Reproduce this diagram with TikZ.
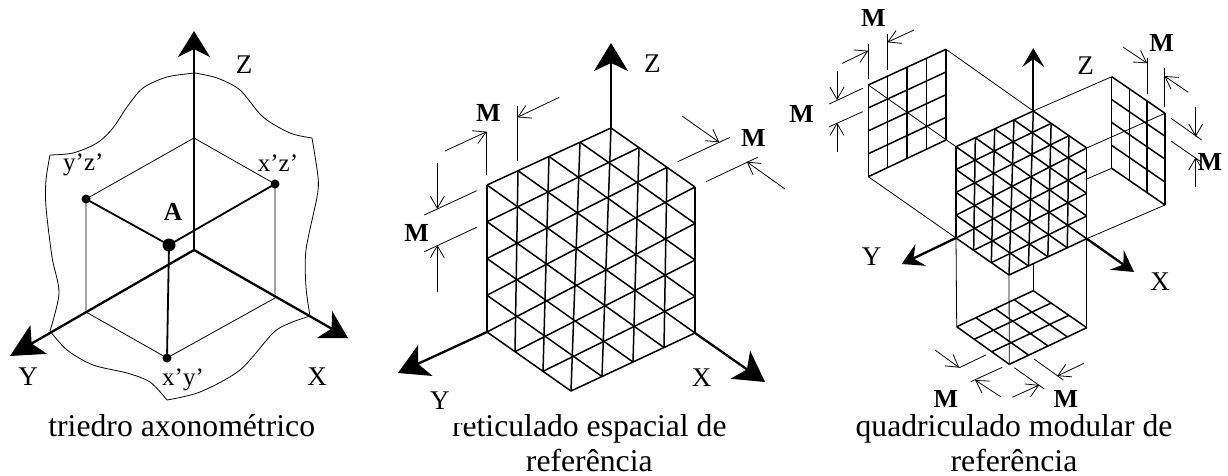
\documentclass[tikz,border=0pt]{standalone}
\usepackage{fontspec}
\setmainfont{Liberation Serif}
\usetikzlibrary{arrows.meta,calc}

\tikzset{
  thinline/.style={line width=0.8pt},
  gridline/.style={line width=1.5pt},
  axisline/.style 2 args={line width=2.3pt,-{Stealth[length=#1,width=#2,inset=8pt]}},
  dimarrow/.style={line width=0.8pt,-{Straight Barb[length=12pt,width=14pt]}},
  dot/.style={circle,fill=black,inner sep=0pt,minimum size=#1},
  axislabel/.style={font=\fontsize{27}{27}\selectfont,inner sep=0pt},
  pointlabel/.style={font=\fontsize{25}{25}\selectfont,inner sep=0pt},
  modlabel/.style={font=\fontsize{26}{26}\selectfont\bfseries,inner sep=0pt},
  caption/.style={font=\fontsize{31.7}{34.5}\selectfont,align=center,inner sep=0pt}
}

% lattice on a hexagon with corners #1T, #1L, #1E, #1B, #1F, #1R
\newcommand{\hexlattice}[1]{
  \foreach \i in {0,...,4}
    \draw[gridline] ($(#1T)!\i/4!(#1L)$) -- ($(#1R)!\i/4!(#1F)$);
  \foreach \i in {1,...,4}
    \draw[gridline] ($(#1L)!\i/4!(#1E)$) -- ($(#1F)!\i/4!(#1B)$);
  \foreach \i in {0,...,3} {
    \draw[gridline] ($(#1L)!\i/4!(#1E)$) -- ($(#1T)!\i/3!(#1R)$);
    \draw[gridline] ($(#1E)!\i/3!(#1B)$) -- ($(#1R)!\i/4+0.25!(#1F)$);
    \draw[gridline] ($(#1L)!\i/4!(#1T)$) -- ($(#1E)!\i/3!(#1B)$);
    \draw[gridline] ($(#1T)!\i/3!(#1R)$) -- ($(#1B)!\i/4+0.25!(#1F)$);
  }
  \draw[gridline] (#1R) -- (#1F);
}

% flat panel with corners p, q, r, s and #5 by #6 divisions
\newcommand{\gridpanel}[6]{
  \foreach \i in {0,...,#5}
    \draw[gridline] ($(#1)!\i/#5!(#2)$) -- ($(#4)!\i/#5!(#3)$);
  \foreach \i in {0,...,#6}
    \draw[gridline] ($(#2)!\i/#6!(#3)$) -- ($(#1)!\i/#6!(#4)$);
}

\begin{document}
\begin{tikzpicture}[x=1pt,y=-1pt]
  \useasboundingbox (0,0) rectangle (1228,476);

  % triedro
  \draw[thinline] plot[smooth] coordinates {(195,73) (167,77) (143,88) (127,107) (113,128) (97,143) (73,153) (50,155)};
  \draw[thinline] plot[smooth] coordinates {(50,155) (46,180) (46,207) (52,257) (59,293) (50,331)};
  \draw[thinline] plot[smooth] coordinates {(50,331) (67,350) (93,365) (127,373) (150,382) (167,400)};
  \draw[thinline] plot[smooth] coordinates {(167,400) (200,392) (240,370) (273,333) (290,323) (310,316)};
  \draw[thinline] plot[smooth] coordinates {(310,316) (306,287) (306,250) (317,197) (318,177) (312,138)};
  \draw[thinline] plot[smooth] coordinates {(312,138) (290,133) (263,117) (240,90) (217,78) (195,73)};

  \coordinate (aO) at (194,250);
  \coordinate (aZ) at (194,138);
  \coordinate (aP) at (86,312);
  \coordinate (aQ) at (275,298);
  \node[dot=9pt] (yz) at (86,199) {};
  \node[dot=9pt] (xz) at (275,184) {};
  \node[dot=9pt] (xy) at (167,358) {};
  \node[dot=13pt] (ptA) at (169,245) {};

  \draw[thinline] (yz.center) -- (aZ) -- (xz.center);
  \draw[thinline] (yz.center) -- (aP) -- (xy.center) -- (aQ) -- (xz.center);
  \draw[line width=1.8pt] (yz.center) -- (ptA.center) -- (xz.center);
  \draw[line width=1.8pt] (ptA.center) -- (xy.center);

  \draw[axisline={26pt}{32pt}] (aO) -- (194,31);
  \draw[axisline={33pt}{33pt}] (aO) -- (10,356);
  \draw[axisline={27pt}{31pt}] (aO) -- (348,338);

  \node[axislabel] (z1) at (244,65) {Z};
  \node[axislabel] (y1) at (28,377) {Y};
  \node[axislabel] (x1) at (317,377) {X};
  \node[pointlabel] (yzl) at (83.3,165) {y'z’};
  \node[pointlabel] (xzl) at (278,163) {x'z’};
  \node[pointlabel] (xyl) at (183,380) {x'y’};
  \node[modlabel] (al) at (173,212) {A};
  \node[caption] (cap1) at (181.7,426) {triedro axonométrico};

  % reticulado
  \coordinate (bT) at (611,128);
  \coordinate (bL) at (487,185);
  \coordinate (bE) at (487,332);
  \coordinate (bB) at (571,391);
  \coordinate (bF) at (695,333);
  \coordinate (bR) at (695,187);
  \hexlattice{b}
  \draw[line width=2pt] (bL) -- (bE);

  \draw[axisline={28pt}{34pt}] (bT) -- (611,43);
  \draw[axisline={30pt}{34pt}] (bE) -- (398,373);
  \draw[axisline={30pt}{34pt}] (bF) -- (765,382);

  \draw[thinline] (486.7,131.7) -- (486.7,175);
  \draw[thinline] (517.3,106) -- (517.3,160.7);
  \draw[dimarrow] (445,151) -- (486.7,131.7);
  \draw[dimarrow] (559.3,97.3) -- (517.3,117.3);
  \draw[thinline] (424.3,215) -- (476.7,190.7);
  \draw[thinline] (424.3,251.7) -- (476.7,227.3);
  \draw[dimarrow] (437.3,163.3) -- (437.3,209);
  \draw[dimarrow] (437.3,291.7) -- (437.3,245);
  \draw[thinline] (677.7,161.7) -- (730,137.3);
  \draw[thinline] (706,181.7) -- (757.7,157.3);
  \draw[dimarrow] (682,116) -- (719.3,142.3);
  \draw[dimarrow] (785,189) -- (746.7,161.7);

  \node[modlabel] (m1) at (488.3,113.3) {M};
  \node[modlabel] (m2) at (416.7,232.7) {M};
  \node[modlabel] (m3) at (753.3,138.3) {M};
  \node[axislabel] (z2) at (652.3,64) {Z};
  \node[axislabel] (x2) at (701.7,377.3) {X};
  \node[caption] (cap2) at (589.3,443) {reticulado espacial de\\referência};
  \node[axislabel,fill=white,text width=37pt,text height=23pt,text depth=14pt,inner xsep=6pt,inner ysep=0pt,anchor=north west] (y2) at (424,386) {Y};

  % quadriculado
  \coordinate (cT) at (1033.3,111);
  \coordinate (cL) at (956,146.7);
  \coordinate (cE) at (956,238);
  \coordinate (cB) at (1009,275);
  \coordinate (cF) at (1086.7,238.7);
  \coordinate (cR) at (1086.7,148);

  \coordinate (wa) at (868.3,85);
  \coordinate (wb) at (946,49.3);
  \coordinate (wc) at (946,140);
  \coordinate (wd) at (868.3,176.7);
  \coordinate (va) at (1111.7,76.7);
  \coordinate (vb) at (1165,113.3);
  \coordinate (vc) at (1165,205);
  \coordinate (vd) at (1111.7,168.3);
  \coordinate (fa) at (956.7,326.7);
  \coordinate (fb) at (1033.3,290.7);
  \coordinate (fc) at (1086.7,327.7);
  \coordinate (fd) at (1009.3,364.3);

  \draw[thinline] (wa) -- (cL);
  \draw[thinline] (wb) -- (cT) -- (va);
  \draw[thinline] (wd) -- (cE);
  \draw[thinline] (cR) -- (vb);
  \draw[thinline] (1086.7,179) -- (vd);
  \draw[thinline] (cF) -- (vc);
  \draw[thinline] (cE) -- (fa);
  \draw[thinline] (cF) -- (fc);
  \draw[thinline] (cB) -- (fd);
  \draw[thinline] (1033.3,264) -- (fb);

  \gridpanel{wa}{wb}{wc}{wd}{4}{4}
  \gridpanel{va}{vb}{vc}{vd}{3}{4}
  \gridpanel{fa}{fb}{fc}{fd}{4}{3}
  \hexlattice{c}

  \draw[axisline={19pt}{22pt}] (cT) -- (1033.3,48);
  \draw[axisline={21pt}{24pt}] (cE) -- (901.7,264);
  \draw[axisline={21pt}{24pt}] (cF) -- (1134,272);

  \draw[thinline] (868.3,44.3) -- (868.3,79.3);
  \draw[thinline] (887.3,34.3) -- (887.3,70);
  \draw[dimarrow] (842.3,63.3) -- (868.3,50.7);
  \draw[dimarrow] (914,30) -- (887.3,42.3);
  \draw[thinline] (829.3,104) -- (862.7,88.3);
  \draw[thinline] (829.3,126.7) -- (862.7,111.7);
  \draw[dimarrow] (837,71) -- (837,100);
  \draw[dimarrow] (837,151.7) -- (837,122.7);

  \draw[thinline] (1147.3,58.3) -- (1147.3,94.3);
  \draw[thinline] (1164.3,68.3) -- (1164.3,106.7);
  \draw[dimarrow] (1123.3,47.3) -- (1147.3,63.3);
  \draw[dimarrow] (1188.3,92.3) -- (1164.3,76);
  \draw[thinline] (1171,118.3) -- (1201.7,140);
  \draw[thinline] (1171,141) -- (1201.7,162.3);
  \draw[dimarrow] (1195.7,106.7) -- (1195.7,136.7);
  \draw[dimarrow] (1195.7,186.7) -- (1195.7,157.3);

  \draw[thinline] (959.3,367.7) -- (985.7,355);
  \draw[thinline] (970.7,381.7) -- (1002.3,367.3);
  \draw[dimarrow] (935,350) -- (959.3,367.7);
  \draw[dimarrow] (1000.7,396.7) -- (975,380);
  \draw[thinline] (1014.3,367.7) -- (1044.3,389);
  \draw[thinline] (1034,359) -- (1063.3,380);
  \draw[dimarrow] (1012.3,397.3) -- (1039.3,385);
  \draw[dimarrow] (1084,363.3) -- (1057.3,376);

  \node[modlabel] (m4) at (873.3,18.3) {M};
  \node[modlabel] (m5) at (801.7,114.3) {M};
  \node[modlabel] (m6) at (1161.7,42.7) {M};
  \node[modlabel] (m7) at (1210,161.7) {M};
  \node[axislabel] (z3) at (1085.7,65.7) {Z};
  \node[axislabel] (y3) at (871.7,256.7) {Y};
  \node[axislabel] (x3) at (1160,281.7) {X};
  \node[caption] (cap3) at (1014,443) {quadriculado modular de\\referência};
  \node[modlabel] (m8) at (946,398.5) {M};
  \node[modlabel] (m9) at (1066,398.5) {M};
\end{tikzpicture}
\end{document}
